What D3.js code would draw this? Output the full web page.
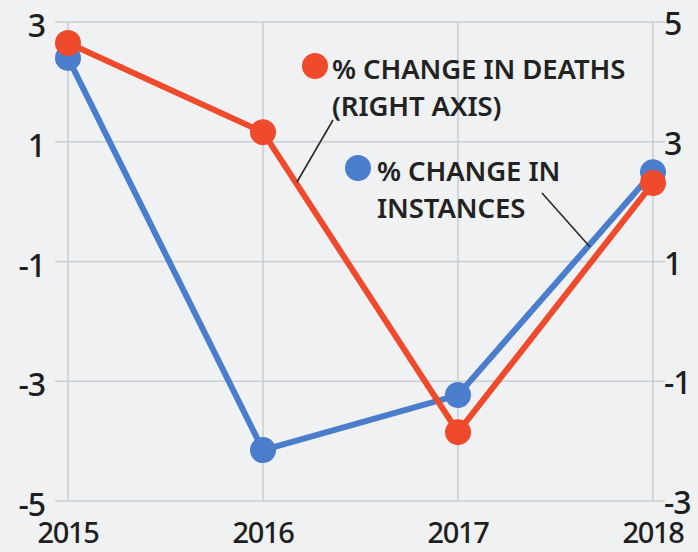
<!DOCTYPE html>
<html>
<head>
<meta charset="utf-8">
<script src="https://cdn.jsdelivr.net/npm/d3@7"></script>
<style>
  html, body { margin: 0; padding: 0; background: #f0f1f2; }
  svg { display: block; }
  .tick-label { font-family: "Noto Sans", sans-serif; font-weight: 500; fill: #1e1e1e; }
  .note { font-family: "Noto Sans", sans-serif; font-weight: 600; fill: #222; }
</style>
</head>
<body>
<svg id="chart" width="698" height="552"></svg>
<script>
// data
const years = [2015, 2016, 2017, 2018];
const instances = [2.40, -4.15, -3.23, 0.49];   // left axis
const deaths = [4.65, 3.16, -1.85, 2.31];       // right axis
const leftTicks = [3, 1, -1, -3, -5];
const rightTicks = [5, 3, 1, -1, -3];

const RED = "#ef4a2b";
const BLUE = "#4a7dcb";
const GRID = "#c9ced3";

const svg = d3.select("#chart");

const x = d3.scaleLinear().domain([2015, 2018]).range([68, 653]);
const yL = d3.scaleLinear().domain([-5, 3]).range([501, 22]);
const yR = d3.scaleLinear().domain([-3, 5]).range([501, 22]);

// horizontal grid
svg.append("g")
  .selectAll("line")
  .data(leftTicks)
  .join("line")
  .attr("x1", 55).attr("x2", 665)
  .attr("y1", d => yL(d)).attr("y2", d => yL(d))
  .attr("stroke", GRID).attr("stroke-width", 1.5);

// vertical grid
svg.append("g")
  .selectAll("line")
  .data(years)
  .join("line")
  .attr("x1", d => x(d)).attr("x2", d => x(d))
  .attr("y1", yL(3)).attr("y2", yL(-5))
  .attr("stroke", GRID).attr("stroke-width", 1.5);

// left tick labels
svg.append("g")
  .selectAll("text")
  .data(leftTicks)
  .join("text")
  .attr("class", "tick-label")
  .attr("x", 45)
  .attr("y", d => yL(d) + 4)
  .attr("dy", "0.35em")
  .attr("text-anchor", "end")
  .attr("font-size", 32)
  .attr("letter-spacing", -1)
  .text(d => d);

// right tick labels
svg.append("g")
  .selectAll("text")
  .data(rightTicks)
  .join("text")
  .attr("class", "tick-label")
  .attr("x", 664)
  .attr("y", d => yR(d) + 2)
  .attr("dy", "0.35em")
  .attr("font-size", 32)
  .attr("letter-spacing", -1)
  .text(d => d);

// year labels
svg.append("g")
  .selectAll("text")
  .data(years)
  .join("text")
  .attr("class", "tick-label")
  .attr("x", d => x(d))
  .attr("y", 543)
  .attr("text-anchor", "middle")
  .attr("font-size", 29)
  .attr("letter-spacing", -1.3)
  .text(d => d);

function drawSeries(values, y, color) {
  const line = d3.line().x((d, i) => x(years[i])).y(d => y(d));
  svg.append("path")
    .datum(values)
    .attr("d", line)
    .attr("fill", "none")
    .attr("stroke", color)
    .attr("stroke-width", 6)
    .attr("stroke-linejoin", "round");
  svg.append("g")
    .selectAll("circle")
    .data(values)
    .join("circle")
    .attr("cx", (d, i) => x(years[i]))
    .attr("cy", d => y(d))
    .attr("r", 13)
    .attr("fill", color);
}

drawSeries(instances, yL, BLUE);
drawSeries(deaths, yR, RED);

// annotations
const notes = [
  { color: RED, dot: [315, 66], lines: ["% CHANGE IN DEATHS", "(RIGHT AXIS)"], tx: 332, ty: 79, lead: [[333, 120], [297, 182]] },
  { color: BLUE, dot: [358, 168], lines: ["% CHANGE IN", "INSTANCES"], tx: 377, ty: 181, lead: [[542, 193], [590, 247]] }
];

notes.forEach(n => {
  svg.append("circle")
    .attr("cx", n.dot[0]).attr("cy", n.dot[1]).attr("r", 13)
    .attr("fill", n.color);
  n.lines.forEach((t, i) => {
    svg.append("text")
      .attr("class", "note")
      .attr("x", n.tx)
      .attr("y", n.ty + i * 37)
      .attr("font-size", 27.5)
      .attr("letter-spacing", -0.1)
      .text(t);
  });
  svg.append("line")
    .attr("x1", n.lead[0][0]).attr("y1", n.lead[0][1])
    .attr("x2", n.lead[1][0]).attr("y2", n.lead[1][1])
    .attr("stroke", "#2a2a2a").attr("stroke-width", 1.6);
});
</script>
</body>
</html>
